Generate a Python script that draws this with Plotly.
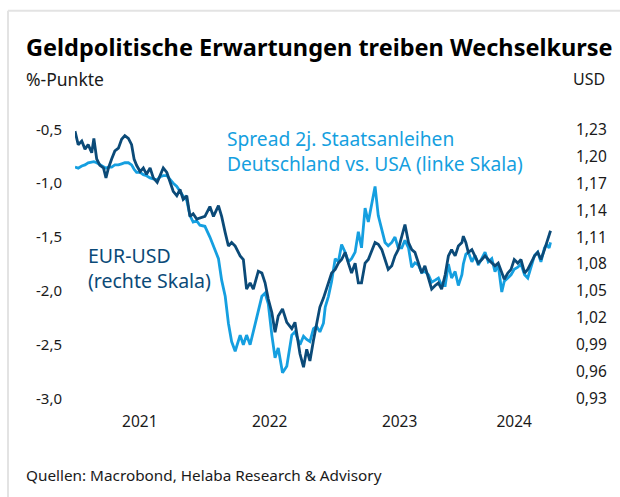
import plotly.graph_objects as go

# ---------------- data ----------------
dates = [
    "2021-01-01", "2021-01-10", "2021-01-20", "2021-01-29", "2021-02-07", "2021-02-17", "2021-02-23",
    "2021-03-03", "2021-03-12", "2021-03-22", "2021-03-29", "2021-04-05", "2021-04-14", "2021-04-23",
    "2021-05-03", "2021-05-12", "2021-05-21", "2021-05-31", "2021-06-09", "2021-06-16", "2021-06-23",
    "2021-07-03", "2021-07-12", "2021-07-21", "2021-07-31", "2021-08-09", "2021-08-20", "2021-08-28",
    "2021-09-06", "2021-09-16", "2021-09-25", "2021-10-04", "2021-10-14", "2021-10-23", "2021-11-01",
    "2021-11-11", "2021-11-20", "2021-11-29", "2021-12-09", "2021-12-18",
    "2022-01-01", "2022-01-15", "2022-01-25", "2022-02-08", "2022-02-17", "2022-02-27", "2022-03-08",
    "2022-03-17", "2022-03-27", "2022-04-10", "2022-04-19", "2022-04-28", "2022-05-08", "2022-05-17",
    "2022-05-31", "2022-06-10", "2022-06-19", "2022-06-28", "2022-07-08", "2022-07-17", "2022-07-26",
    "2022-08-07", "2022-08-19", "2022-09-02", "2022-09-11", "2022-09-25", "2022-10-05", "2022-10-14",
    "2022-10-23", "2022-11-02", "2022-11-11", "2022-11-20", "2022-11-30", "2022-12-05", "2022-12-14",
    "2022-12-23",
    "2023-01-02", "2023-01-11", "2023-01-20", "2023-01-30", "2023-02-08", "2023-02-17", "2023-02-27",
    "2023-03-08", "2023-03-17", "2023-03-27", "2023-04-05", "2023-04-15", "2023-04-24", "2023-05-03",
    "2023-05-13", "2023-05-22", "2023-05-31", "2023-06-10", "2023-06-19", "2023-06-28", "2023-07-08",
    "2023-07-17", "2023-07-27", "2023-08-05", "2023-08-14", "2023-08-24", "2023-09-02", "2023-09-11",
    "2023-09-21", "2023-09-30", "2023-10-10", "2023-10-19", "2023-10-28", "2023-11-07", "2023-11-16",
    "2023-11-25", "2023-12-05", "2023-12-14", "2023-12-24", "2023-12-28",
    "2024-01-04", "2024-01-11", "2024-01-21", "2024-01-30", "2024-02-08", "2024-02-18", "2024-02-27",
    "2024-03-07", "2024-03-17", "2024-03-26", "2024-04-04", "2024-04-14", "2024-04-21", "2024-05-01",
    "2024-05-10", "2024-05-19", "2024-05-29", "2024-06-07", "2024-06-17", "2024-06-26", "2024-07-05",
    "2024-07-15", "2024-07-24", "2024-08-02", "2024-08-12", "2024-08-18", "2024-08-25", "2024-08-29",
]

eur_usd = [
    1.228, 1.213, 1.217, 1.208, 1.213, 1.204, 1.220, 1.197, 1.190, 1.187,
    1.176, 1.187, 1.197, 1.206, 1.209, 1.219, 1.223, 1.220, 1.213, 1.197,
    1.190, 1.183, 1.187, 1.180, 1.187, 1.176, 1.171, 1.178, 1.187, 1.182,
    1.172, 1.161, 1.156, 1.163, 1.152, 1.156, 1.133, 1.136, 1.130, 1.131,
    1.133, 1.144, 1.133, 1.145, 1.133, 1.115, 1.100, 1.104, 1.100, 1.089,
    1.085, 1.052, 1.059, 1.052, 1.072, 1.070, 1.059, 1.041, 1.026, 1.004,
    1.022, 1.030, 1.015, 1.008, 1.015, 0.980, 0.965, 0.985, 0.972, 0.995,
    1.015, 1.032, 1.042, 1.048, 1.059, 1.070,
    1.074, 1.081, 1.085, 1.093, 1.081, 1.070, 1.081, 1.059, 1.059, 1.081,
    1.085, 1.096, 1.104, 1.102, 1.096, 1.085, 1.074, 1.078, 1.089, 1.096,
    1.111, 1.124, 1.104, 1.096, 1.093, 1.081, 1.070, 1.078, 1.063, 1.052,
    1.056, 1.059, 1.052, 1.068, 1.089, 1.096, 1.089, 1.100, 1.104, 1.111,
    1.104, 1.093, 1.096, 1.089, 1.081, 1.085, 1.089, 1.085, 1.081, 1.078,
    1.081, 1.070, 1.063, 1.070, 1.074, 1.085, 1.081, 1.085, 1.070, 1.074,
    1.081, 1.089, 1.093, 1.085, 1.096, 1.104, 1.111, 1.117,
]

spread_2y = [
    -0.85, -0.86, -0.84, -0.83, -0.81, -0.80, -0.80, -0.81, -0.83, -0.85,
    -0.86, -0.85, -0.85, -0.83, -0.83, -0.82, -0.81, -0.81, -0.83, -0.87,
    -0.90, -0.90, -0.92, -0.93, -0.95, -0.96, -0.97, -0.94, -0.93, -0.93,
    -0.97, -1.00, -1.03, -1.08, -1.12, -1.16, -1.30, -1.36, -1.35, -1.39,
    -1.40, -1.50, -1.58, -1.70, -1.90, -2.05, -2.30, -2.47, -2.56, -2.41,
    -2.50, -2.41, -2.50, -2.38, -2.20, -2.05, -2.02, -2.12, -2.41, -2.62,
    -2.53, -2.76, -2.70, -2.41, -2.38, -2.50, -2.42, -2.45, -2.47, -2.35,
    -2.33, -2.38, -2.30, -2.15, -2.05, -1.91,
    -1.70, -1.73, -1.57, -1.64, -1.73, -1.70, -1.64, -1.45, -1.60, -1.23,
    -1.36, -1.17, -1.03, -1.30, -1.42, -1.55, -1.58, -1.55, -1.50, -1.60,
    -1.60, -1.53, -1.60, -1.78, -1.74, -1.76, -1.83, -1.82, -1.85, -1.92,
    -1.90, -1.88, -1.95, -1.95, -1.75, -1.88, -1.82, -1.95, -1.85, -1.75,
    -1.66, -1.64, -1.73, -1.67, -1.76, -1.70, -1.64, -1.73, -1.70, -1.82,
    -1.76, -2.01, -1.91, -1.88, -1.85, -1.80, -1.78, -1.75, -1.85, -1.88,
    -1.79, -1.67, -1.64, -1.73, -1.60, -1.57, -1.60, -1.55,
]

year_label_dates = ["2021-07-02", "2022-07-02", "2023-07-02", "2024-05-19"]
year_labels = ["2021", "2022", "2023", "2024"]

left_ticks = [-3.0, -2.5, -2.0, -1.5, -1.0, -0.5]
left_tick_text = ["-3,0", "-2,5", "-2,0", "-1,5", "-1,0", "-0,5"]
right_ticks = [0.93, 0.96, 0.99, 1.02, 1.05, 1.08, 1.11, 1.14, 1.17, 1.20, 1.23]
right_tick_text = ["0,93", "0,96", "0,99", "1,02", "1,05", "1,08", "1,11", "1,14", "1,17", "1,20", "1,23"]

# ---------------- layout geometry ----------------
W, H = 620, 497
L, R, T, B = 75, 57, 123.6, 92.6
pw, ph = W - L - R, H - T - B


def px(xp):
    return (xp - L) / pw


def py(yp):
    return (H - B - yp) / ph


DARK = "#0b4a78"
LIGHT = "#159fe0"
TXT = "#1a1a1a"
FONT = "Noto Sans"

fig = go.Figure()
fig.add_trace(go.Scatter(x=dates, y=eur_usd, yaxis="y2", mode="lines",
                         line=dict(color=DARK, width=2.8), name="EUR-USD"))
fig.add_trace(go.Scatter(x=dates, y=spread_2y, mode="lines",
                         line=dict(color=LIGHT, width=2.8), name="Spread"))

fig.update_layout(
    width=W, height=H,
    margin=dict(l=L, r=R, t=T, b=B, pad=0),
    paper_bgcolor="white", plot_bgcolor="white",
    showlegend=False,
    font=dict(family=FONT, size=14, color=TXT),
    xaxis=dict(type="date", range=["2021-01-01", "2024-10-03"],
               tickmode="array", tickvals=year_label_dates, ticktext=year_labels,
               showgrid=False, zeroline=False, showline=False, ticks="",
               ticklabelstandoff=6, tickfont=dict(size=15.5, color=TXT)),
    yaxis=dict(range=[-3.05, -0.45], tickmode="array", tickvals=left_ticks,
               ticktext=left_tick_text, showgrid=False, zeroline=False,
               showline=False, ticks="", ticklabelstandoff=12,
               tickfont=dict(size=15, color=TXT)),
    yaxis2=dict(range=[0.924, 1.236], overlaying="y", side="right",
                tickmode="array", tickvals=right_ticks, ticktext=right_tick_text,
                showgrid=False, zeroline=False, showline=False, ticks="",
                ticklabelstandoff=12, tickfont=dict(size=15.5, color=TXT)),
)

ann = [
    dict(text="<b>Geldpolitische Erwartungen treiben Wechselkurse</b>", x=px(24), y=py(46),
         xanchor="left", yanchor="middle", font=dict(size=23.5, color="#000000")),
    dict(text="%-Punkte", x=px(24), y=py(78), xanchor="left", yanchor="middle",
         font=dict(size=17.5, color=TXT)),
    dict(text="USD", x=px(607), y=py(78), xanchor="right", yanchor="middle",
         font=dict(size=16, color=TXT)),
    dict(text="Spread 2j. Staatsanleihen<br>Deutschland vs. USA (linke Skala)",
         x=px(225), y=py(151), xanchor="left", yanchor="middle", align="left",
         font=dict(size=19.2, color=LIGHT)),
    dict(text="EUR-USD<br>(rechte Skala)", x=px(86), y=py(268.5), xanchor="left",
         yanchor="middle", align="left", font=dict(size=19.5, color=DARK)),
    dict(text="Quellen: Macrobond, Helaba Research &amp; Advisory", x=px(24), y=py(476),
         xanchor="left", yanchor="middle", font=dict(size=15.3, color=TXT)),
]
for a in ann:
    a.update(xref="paper", yref="paper", showarrow=False)
fig.update_layout(annotations=ann)

# light grey card frame (left and top edges)
fig.add_shape(type="line", xref="paper", yref="paper", x0=px(8), x1=px(8), y0=py(10), y1=py(H + 5),
              line=dict(color="#e3e3e3", width=2))
fig.add_shape(type="line", xref="paper", yref="paper", x0=px(8), x1=px(W + 5), y0=py(10), y1=py(10),
              line=dict(color="#e3e3e3", width=2))

fig.write_html("out.html", config={"displayModeBar": False},
               post_script="document.body.style.margin='0';document.body.style.overflow='hidden';")
